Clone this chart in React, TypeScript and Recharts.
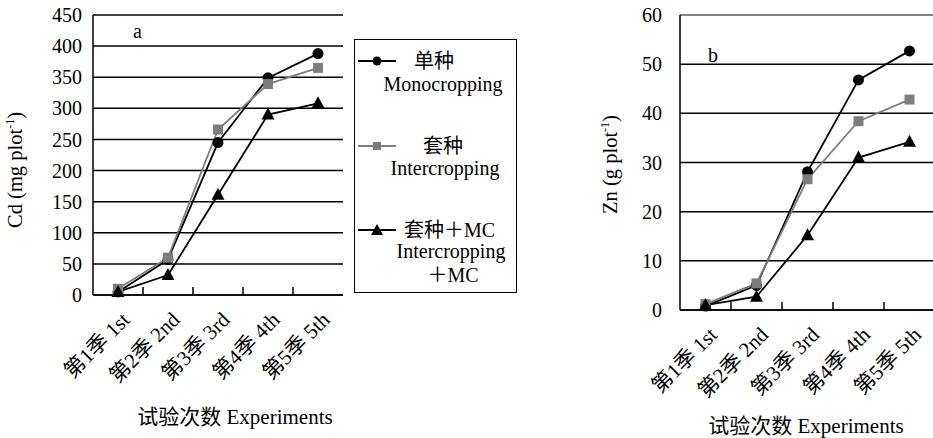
import { LineChart, Line, XAxis, YAxis, CartesianGrid, Legend, Label, ReferenceLine } from "recharts";

const SERIF = '"Liberation Serif", "Noto Sans CJK SC", serif';

const seasons = ["第1季 1st", "第2季 2nd", "第3季 3rd", "第4季 4th", "第5季 5th"];

// a: Cd (mg plot-1)
const cdMono = [5, 57, 245, 349, 388];
const cdInter = [10, 60, 266, 339, 365];
const cdMC = [5, 32, 161, 290, 308];
const cdTicks = [0, 50, 100, 150, 200, 250, 300, 350, 400, 450];

// b: Zn (g plot-1)
const znMono = [0.8, 5, 28.1, 46.8, 52.7];
const znInter = [1.2, 5.4, 26.6, 38.4, 42.8];
const znMC = [1, 2.7, 15.2, 31, 34.2];
const znTicks = [0, 10, 20, 30, 40, 50, 60];

const cdData = seasons.map((s, i) => ({ season: s, mono: cdMono[i], inter: cdInter[i], mc: cdMC[i] }));
const znData = seasons.map((s, i) => ({ season: s, mono: znMono[i], inter: znInter[i], mc: znMC[i] }));

const GRAY = "#7d7d7d";

const CircleDot = (p: any) =>
  p.cx == null ? null : <circle key={`c${p.index}`} cx={p.cx} cy={p.cy} r={5.5} fill="#000" />;
const SquareDot = (p: any) =>
  p.cx == null ? null : <rect key={`s${p.index}`} x={p.cx - 5} y={p.cy - 5} width={10} height={10} fill={GRAY} />;
const TriDot = (p: any) =>
  p.cx == null ? null : (
    <polygon
      key={`t${p.index}`}
      points={`${p.cx},${p.cy - 7} ${p.cx + 6.5},${p.cy + 5} ${p.cx - 6.5},${p.cy + 5}`}
      fill="#000"
    />
  );

const legendInfo: Record<string, any> = {
  mono: { cjk: "单种", cjkLeft: 59, y: 21, en: [["Monocropping", 88, 44]], color: "#000", shape: "circle" },
  inter: { cjk: "套种", cjkLeft: 68, y: 106, en: [["Intercropping", 90, 128]], color: GRAY, shape: "square" },
  mc: {
    cjk: "套种＋MC",
    cjkLeft: 49,
    y: 190,
    en: [["Intercropping", 96, 211], ["＋MC", 98, 235]],
    color: "#000",
    shape: "triangle",
  },
};

const LegendBox = ({ payload }: any) => {
  const keys = payload && payload.length ? payload.map((p: any) => p.dataKey) : ["mono", "inter", "mc"];
  return (
    <div
      style={{
        width: 163,
        height: 254,
        border: "1.5px solid #000",
        boxSizing: "border-box",
        background: "#fff",
        position: "relative",
        fontFamily: SERIF,
        fontSize: 20,
        color: "#000",
      }}
    >
      {keys.map((k: string) => {
        const info = legendInfo[k];
        if (!info) return null;
        return (
          <div key={k}>
            <svg width={38} height={16} style={{ position: "absolute", left: 3, top: info.y - 8 }}>
              <line x1={0} y1={8} x2={38} y2={8} stroke={info.color} strokeWidth={1.8} />
              {info.shape === "circle" && <circle cx={19} cy={8} r={4.5} fill="#000" />}
              {info.shape === "square" && <rect x={15} y={4} width={8} height={8} fill={GRAY} />}
              {info.shape === "triangle" && <polygon points="19,2 25,13 13,13" fill="#000" />}
            </svg>
            <div style={{ position: "absolute", left: info.cjkLeft, top: info.y - 12, lineHeight: "24px", whiteSpace: "nowrap" }}>
              {info.cjk}
            </div>
            {info.en.map(([t, cx, cy]: any) => (
              <div
                key={t + cy}
                style={{
                  position: "absolute",
                  left: cx,
                  top: cy - 12,
                  lineHeight: "24px",
                  transform: "translateX(-50%)",
                  whiteSpace: "nowrap",
                }}
              >
                {t}
              </div>
            ))}
          </div>
        );
      })}
    </div>
  );
};

// rotated category label plus a short upward tick at the left edge of each band
const SeasonTick = ({ x, y, payload, index }: any) => {
  const ax = x + 13;
  const ay = y + 26;
  const edge = x - (payload.offset || 0);
  return (
    <g>
      {index > 0 && <line x1={edge} y1={y} x2={edge} y2={y - 8} stroke="#000" strokeWidth={1.5} />}
      <text
        x={ax}
        y={ay}
        transform={`rotate(-45, ${ax}, ${ay})`}
        textAnchor="end"
        fontSize={21}
        fontFamily={SERIF}
        fill="#000"
      >
        {payload.value}
      </text>
    </g>
  );
};

const yTitle = (name: string, unit: string, dx: number, dy: number) => (props: any) => {
  const vb = props.viewBox || {};
  const cx = vb.x + dx;
  const cy = vb.y + vb.height / 2 + dy;
  return (
    <text
      x={cx}
      y={cy}
      transform={`rotate(-90, ${cx}, ${cy})`}
      textAnchor="middle"
      fontSize={20.5}
      fontFamily={SERIF}
      fill="#000"
    >
      {name} ({unit} plot<tspan dy={-8} fontSize={12}>-1</tspan>
      <tspan dy={8}>)</tspan>
    </text>
  );
};

const xTitle = (dx: number, dy: number) => (props: any) => {
  const vb = props.viewBox || {};
  return (
    <text
      x={vb.x + vb.width / 2 + dx}
      y={vb.y + dy}
      textAnchor="middle"
      fontSize={21}
      fontFamily={SERIF}
      fill="#000"
    >
      试验次数 Experiments
    </text>
  );
};

const yTickStyle = { fontSize: 20, fontFamily: SERIF, fill: "#000" };
const axisLine = { stroke: "#000", strokeWidth: 1.5 };

export default function App() {
  return (
    <div
      style={{ position: "absolute", left: 0, top: 0, width: 933, height: 438, overflow: "hidden", background: "#fff" }}
    >
      <div style={{ position: "absolute", left: 0, top: 0 }}>
        <LineChart width={540} height={438} data={cdData} margin={{ top: 15, right: 197, left: 33, bottom: 43 }}>
          <CartesianGrid vertical={false} stroke="#000" strokeWidth={1.5} />
          <XAxis
            dataKey="season"
            scale="band"
            height={100}
            interval={0}
            axisLine={axisLine}
            tickLine={false}
            tickSize={0}
            tickMargin={0}
            tick={<SeasonTick />}
          >
            <Label content={xTitle(17, 129)} />
          </XAxis>
          <YAxis
            domain={[0, 450]}
            ticks={cdTicks}
            width={60}
            axisLine={axisLine}
            tickLine={false}
            tickMargin={5}
            tick={yTickStyle}
          >
            <Label content={yTitle("Cd", "mg", -11, 15)} />
          </YAxis>
          <YAxis yAxisId="right" orientation="right" domain={[0, 450]} width={0} tick={false} tickLine={false} axisLine={axisLine} />
          <Legend
            layout="vertical"
            align="center"
            verticalAlign="middle"
            content={<LegendBox />}
            wrapperStyle={{ left: 354, top: 39, width: 163, height: 254 }}
          />
          <Line dataKey="mono" name="单种 Monocropping" stroke="#000" strokeWidth={1.8} dot={CircleDot} isAnimationActive={false} />
          <Line dataKey="inter" name="套种 Intercropping" stroke={GRAY} strokeWidth={1.8} dot={SquareDot} isAnimationActive={false} />
          <Line dataKey="mc" name="套种＋MC Intercropping＋MC" stroke="#000" strokeWidth={1.8} dot={TriDot} isAnimationActive={false} />
          <text x={133} y={38} fontSize={20} fontFamily={SERIF} fill="#000">
            a
          </text>
        </LineChart>
      </div>

      <div style={{ position: "absolute", left: 560, top: 0 }}>
        <LineChart width={380} height={438} data={znData} margin={{ top: 15, right: 5, left: 60, bottom: 28 }}>
          <CartesianGrid vertical={false} stroke="#000" strokeWidth={1.5} />
          <XAxis
            dataKey="season"
            scale="band"
            height={100}
            interval={0}
            axisLine={axisLine}
            tickLine={false}
            tickSize={0}
            tickMargin={0}
            tick={<SeasonTick />}
          >
            <Label content={xTitle(-1.5, 123)} />
          </XAxis>
          <YAxis
            domain={[0, 60]}
            ticks={znTicks}
            width={60}
            axisLine={axisLine}
            tickLine={false}
            tickMargin={12}
            tick={yTickStyle}
          >
            <Label content={yTitle("Zn", "g", -3, 2)} />
          </YAxis>
          <ReferenceLine y={60} stroke="#9a9a9a" strokeWidth={1.5} />
          <Line dataKey="mono" name="单种 Monocropping" stroke="#000" strokeWidth={1.8} dot={CircleDot} isAnimationActive={false} />
          <Line dataKey="inter" name="套种 Intercropping" stroke={GRAY} strokeWidth={1.8} dot={SquareDot} isAnimationActive={false} />
          <Line dataKey="mc" name="套种＋MC Intercropping＋MC" stroke="#000" strokeWidth={1.8} dot={TriDot} isAnimationActive={false} />
          <text x={148} y={62} fontSize={20} fontFamily={SERIF} fill="#000">
            b
          </text>
        </LineChart>
      </div>
    </div>
  );
}
